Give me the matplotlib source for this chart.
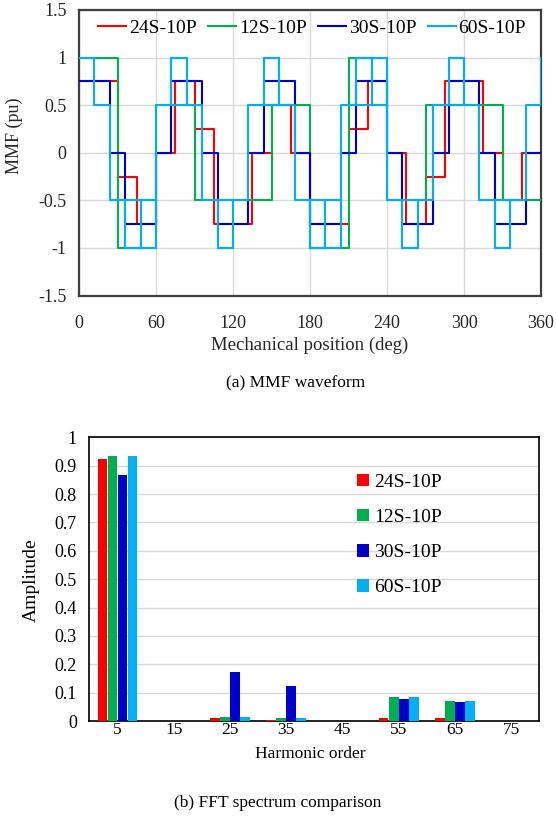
import matplotlib
matplotlib.use("Agg")
import matplotlib.pyplot as plt
from matplotlib.lines import Line2D
from matplotlib.patches import Patch
import numpy as np

plt.rcParams['font.family'] = ['Liberation Serif', 'DejaVu Serif']
plt.rcParams['axes.unicode_minus'] = False

series_names = ["24S-10P", "12S-10P", "30S-10P", "60S-10P"]
series_colors = ["#FF0000", "#00B050", "#0000CC", "#00B0F0"]

# ---- MMF step waveforms: interval edges (deg) and level held on each interval ----
red_edges = [0, 30, 45, 60, 75, 90, 105, 135, 150, 165, 180,
             210, 225, 240, 255, 270, 285, 315, 330, 345, 360]
red_levels = [0.75, -0.25, -0.75, 0, 0.75, 0.25, -0.75, 0, 0.5, 0,
              -0.75, 0.25, 0.75, 0, -0.75, -0.25, 0.75, 0, -0.5, 0]

green_edges = [0, 30, 60, 90, 150, 180, 210, 240, 270, 330, 360]
green_levels = [1, -1, 0.5, -0.5, 0.5, -1, 1, -0.5, 0.5, -0.5]

blue_edges = [0, 24, 36, 60, 72, 96, 108, 132, 144, 168, 180,
              204, 216, 240, 252, 276, 288, 312, 324, 348, 360]
blue_levels = [0.75, 0, -0.75, 0, 0.75, 0, -0.75, 0, 0.75, 0,
               -0.75, 0, 0.75, 0, -0.75, 0, 0.75, 0, -0.75, 0]

cyan_edges = [0, 12, 24, 36, 48, 60, 72, 84, 96, 108, 120, 132, 144, 156, 168,
              180, 192, 204, 216, 228, 240, 252, 264, 276, 288, 300, 312, 324,
              336, 348, 360]
cyan_levels = [1, 0.5, -0.5, -1, -0.5, 0.5, 1, 0.5, -0.5, -1, -0.5, 0.5, 1, 0.5, -0.5,
               -1, -0.5, 0.5, 1, 0.5, -0.5, -1, -0.5, 0.5, 1, 0.5, -0.5, -1, -0.5, 0.5]
cyan_end_level = 1
# closed boxes traced by the 60S-10P curve
cyan_box_start = [36, 48, 72, 108, 144, 180, 192, 216, 228, 252, 288, 324]
cyan_box_end = [48, 60, 84, 120, 156, 192, 204, 228, 240, 264, 300, 336]
cyan_box_low = [-1, -1, 0.5, -1, 0.5, -1, -1, 0.5, 0.5, -1, 0.5, -1]
cyan_box_high = [-0.5, -0.5, 1, -0.5, 1, -0.5, -0.5, 1, 1, -0.5, 1, -0.5]

x_ticks = [0, 60, 120, 180, 240, 300, 360]
y_ticks = [-1.5, -1, -0.5, 0, 0.5, 1, 1.5]
y_tick_labels = ["-1.5", "-1", "-0.5", "0", "0.5", "1", "1.5"]

# ---- FFT spectrum ----
harmonic_orders = [5, 15, 25, 35, 45, 55, 65, 75]
amp_24s = [0.925, 0, 0.010, 0.005, 0, 0.010, 0.010, 0]
amp_12s = [0.933, 0, 0.013, 0.010, 0, 0.086, 0.070, 0]
amp_30s = [0.866, 0, 0.173, 0.123, 0, 0.079, 0.066, 0]
amp_60s = [0.933, 0, 0.013, 0.010, 0, 0.086, 0.070, 0]
amp_ticks = [0, 0.1, 0.2, 0.3, 0.4, 0.5, 0.6, 0.7, 0.8, 0.9, 1]
amp_tick_labels = ["0", "0.1", "0.2", "0.3", "0.4", "0.5", "0.6", "0.7", "0.8", "0.9", "1"]

W, H = 556, 823
fig = plt.figure(figsize=(W / 100, H / 100), dpi=100)

# ================= (a) MMF waveform =================
ax1 = fig.add_axes([79 / W, 1 - 295.5 / H, 462 / W, 285.5 / H])
wave_edges = [red_edges, green_edges, blue_edges, cyan_edges]
wave_levels = [red_levels, green_levels, blue_levels, cyan_levels]
end_levels = [red_levels[-1], green_levels[-1], blue_levels[-1], cyan_end_level]
for edges, levels, last, color in zip(wave_edges, wave_levels, end_levels, series_colors):
    ax1.plot(edges, list(levels) + [last], drawstyle="steps-post",
             color=color, lw=1.5, zorder=3)
for x0, x1, lo, hi in zip(cyan_box_start, cyan_box_end, cyan_box_low, cyan_box_high):
    ax1.plot([x0, x1, x1, x0, x0], [lo, lo, hi, hi, lo], color=series_colors[3],
             lw=1.5, zorder=3)

ax1.set_xlim(0, 360)
ax1.set_ylim(-1.5, 1.5)
ax1.set_xticks(x_ticks)
ax1.set_yticks(y_ticks)
ax1.set_yticklabels(y_tick_labels)
ax1.grid(True, color="#D9D9D9", lw=1.0, zorder=0)
ax1.set_axisbelow(True)
ax1.tick_params(length=0, labelsize=13, colors="#262626")
ax1.tick_params(axis="x", pad=14)
ax1.tick_params(axis="y", pad=9)
for s in ax1.spines.values():
    s.set_color("#404040")
    s.set_linewidth(1.6)
ax1.set_xlabel("Mechanical position (deg)", fontsize=13.5, color="#262626")
ax1.xaxis.set_label_coords(0.5, -0.175)
ax1.xaxis.label.set_va("center")
ax1.set_ylabel("MMF (pu)", fontsize=13, color="#262626")
ax1.yaxis.set_label_coords(-0.141, 0.56)
ax1.yaxis.label.set_va("center")

handles1 = [Line2D([0], [0], color=c, lw=1.5) for c in series_colors]
ax1.legend(handles1, series_names, loc="center", bbox_to_anchor=(0.5045, 0.937),
           ncol=4, frameon=False, fontsize=14, handlelength=1.45,
           handletextpad=0.15, columnspacing=0.57, borderpad=0, borderaxespad=0)

fig.text(296 / W, 1 - 383 / H, "(a) MMF waveform", ha="center", va="center",
         fontsize=12.5, color="#000000")

# ================= (b) FFT spectrum =================
ax2 = fig.add_axes([89.3 / W, 1 - 721 / H, 450 / W, 283.7 / H])
pos = np.arange(len(harmonic_orders))
bar_w = 0.172
offsets = [-1.5, -0.5, 0.5, 1.5]
for amps, off, color in zip([amp_24s, amp_12s, amp_30s, amp_60s], offsets, series_colors):
    ax2.bar(pos + off * 0.178, amps, width=bar_w, color=color, zorder=3)

ax2.set_xlim(-0.5, len(harmonic_orders) - 0.5)
ax2.set_ylim(0, 1)
ax2.set_xticks(pos)
ax2.set_xticklabels([str(h) for h in harmonic_orders])
ax2.set_yticks(amp_ticks)
ax2.set_yticklabels(amp_tick_labels)
ax2.yaxis.grid(True, color="#D9D9D9", lw=1.0, zorder=0)
ax2.set_axisbelow(True)
ax2.tick_params(length=0, labelsize=13, colors="#000000")
ax2.tick_params(axis="x", pad=1, labelsize=12.5)
ax2.tick_params(axis="y", pad=9)
for s in ax2.spines.values():
    s.set_color("#000000")
    s.set_linewidth(1.2)
ax2.set_xlabel("Harmonic order", fontsize=12.5)
ax2.xaxis.set_label_coords((310 - 89.3) / 450, (721 - 754) / 283.7)
ax2.xaxis.label.set_va("center")
ax2.set_ylabel("Amplitude", fontsize=14)
ax2.yaxis.set_label_coords((31 - 89.3) / 450, (721 - 580) / 283.7)
ax2.yaxis.label.set_va("center")

handles2 = [Patch(facecolor=c, edgecolor="none") for c in series_colors]
ax2.legend(handles2, series_names, loc="upper left",
           bbox_to_anchor=((357 - 89.3) / 450, (721 - 474) / 283.7),
           frameon=False, fontsize=14, handlelength=0.6, handleheight=0.6,
           handletextpad=0.3, labelspacing=0.93, borderpad=0, borderaxespad=0)

fig.text(278 / W, 1 - 803 / H, "(b) FFT spectrum comparison", ha="center", va="center",
         fontsize=12.5, color="#000000")

fig.savefig("out.png", dpi=100)
